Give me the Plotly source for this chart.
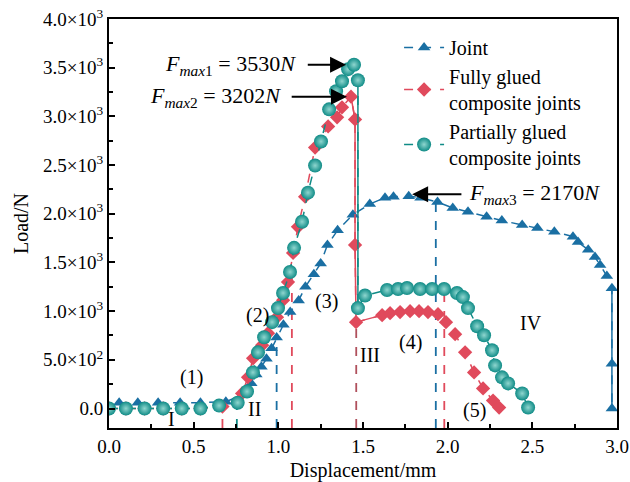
import plotly.graph_objects as go

# ---------------- data ----------------
joint_x = [0.06, 0.17, 0.29, 0.42, 0.54, 0.69, 0.80, 0.84, 0.87, 0.90, 0.93, 0.96, 0.99, 1.03, 1.07,
           1.12, 1.16, 1.21, 1.25, 1.29, 1.35, 1.44, 1.54, 1.63, 1.68, 1.77, 1.84, 1.94, 2.03, 2.12,
           2.23, 2.32, 2.44, 2.53, 2.63, 2.74, 2.77, 2.83, 2.87, 2.90, 2.94, 2.97, 2.97, 2.97]
joint_y = [60, 60, 60, 60, 60, 70, 150, 260, 350, 430, 510, 620, 730, 860, 990,
           1110, 1250, 1380, 1490, 1680, 1830, 1990, 2100, 2165, 2175, 2180, 2165, 2120, 2060, 2020,
           1970, 1930, 1885, 1855, 1815, 1765, 1710, 1630, 1555, 1475, 1360, 1235, 460, 0]

full_x = [0, 0.10, 0.21, 0.32, 0.43, 0.54, 0.67, 0.786, 0.821, 0.851, 0.904, 0.939, 0.992, 1.028,
          1.057, 1.087, 1.116, 1.158, 1.217, 1.294, 1.347, 1.376, 1.429, 1.453, 1.453, 1.459,
          1.613, 1.66, 1.719, 1.778, 1.831, 1.884, 1.943, 1.99, 2.044, 2.103, 2.156, 2.209, 2.268, 2.304]
full_y = [0, 0, 0, 0, 0, 0, 20, 155, 320, 515, 650, 773, 938, 1113,
          1299, 1598, 1866, 2175, 2680, 2897, 2990, 3093, 3202, 2969, 1680, 887,
          959, 979, 990, 1000, 1000, 990, 969, 887, 763, 577, 371, 206, 82, 10]

part_x = [0, 0.10, 0.21, 0.32, 0.43, 0.54, 0.65, 0.76, 0.815, 0.85, 0.88, 0.916, 0.963, 0.998,
          1.028, 1.069, 1.093, 1.14, 1.175, 1.217, 1.252, 1.30, 1.341, 1.376, 1.412, 1.447, 1.47,
          1.47, 1.512, 1.642, 1.707, 1.76, 1.837, 1.908, 1.979, 2.055, 2.09, 2.12, 2.174, 2.215,
          2.262, 2.28, 2.321, 2.357, 2.44, 2.475]
part_y = [0, 0, 0, 0, 0, 0, 30, 60, 175, 371, 577, 732, 887, 1031,
          1186, 1402, 1650, 1918, 2217, 2495, 2742, 3072, 3258, 3361, 3485, 3530, 3371,
          1031, 1160, 1217, 1227, 1237, 1227, 1227, 1227, 1186, 1144, 1031, 845, 753,
          598, 443, 320, 258, 155, 10]

# vertical dashed reference lines (x position, top value)
ref_x = [0.67, 0.755, 0.99, 1.08, 1.46, 1.93, 1.98]
ref_top = [0, 60, 650, 1350, 887, 2120, 1230]
ref_col = ["#e04a5c", "#0f8b86", "#1a6fa3", "#e04a5c", "#b0505c", "#1a6fa3", "#e04a5c"]

y_tickvals = [0, 500, 1000, 1500, 2000, 2500, 3000, 3500, 4000]
y_ticktext = ["0.0", "5.0×10<sup>2</sup>", "1.0×10<sup>3</sup>", "1.5×10<sup>3</sup>",
              "2.0×10<sup>3</sup>", "2.5×10<sup>3</sup>", "3.0×10<sup>3</sup>",
              "3.5×10<sup>3</sup>", "4.0×10<sup>3</sup>"]

stage_labels = ["(1)", "I", "II", "(2)", "(3)", "III", "(4)", "(5)", "IV"]
stage_x = [0.49, 0.37, 0.86, 0.874, 1.287, 1.54, 1.78, 2.16, 2.49]
stage_y = [320, -103, 0, 960, 1103, 546, 680, -20, 876]

BLUE = "#1a6fa3"
RED = "#e04a5c"
TEAL = "#0f8b86"
FONT = "Liberation Serif"

fig = go.Figure()

# reference dashed lines
for xv, tv, c in zip(ref_x, ref_top, ref_col):
    fig.add_trace(go.Scatter(x=[xv, xv], y=[-200, tv], mode="lines",
                             line=dict(color=c, width=1.8, dash="dash"),
                             showlegend=False, hoverinfo="skip"))

# solid drop segments
fig.add_trace(go.Scatter(x=joint_x[-3:], y=joint_y[-3:], mode="lines",
                         line=dict(color=BLUE, width=1.5), showlegend=False))
fig.add_trace(go.Scatter(x=full_x[22:27], y=full_y[22:27], mode="lines",
                         line=dict(color=RED, width=1.5), showlegend=False))
fig.add_trace(go.Scatter(x=part_x[26:28], y=part_y[26:28], mode="lines",
                         line=dict(color=TEAL, width=1.5), showlegend=False))

fig.add_trace(go.Scatter(x=joint_x, y=joint_y, mode="lines+markers", name="Joint",
                         line=dict(color=BLUE, width=1.5, dash="dash"),
                         marker=dict(symbol="triangle-up", size=11, color=BLUE)))
fig.add_trace(go.Scatter(x=full_x, y=full_y, mode="lines+markers",
                         name="Fully glued<br>composite joints",
                         line=dict(color=RED, width=1.5, dash="dash"),
                         marker=dict(symbol="diamond", size=11, color=RED)))
fig.add_trace(go.Scatter(x=part_x, y=part_y, mode="lines+markers",
                         name="Partially glued<br>composite joints",
                         line=dict(color=TEAL, width=1.5, dash="dash"),
                         marker=dict(symbol="circle", size=14, color=TEAL,
                                     gradient=dict(type="radial", color="#8fd6cf"),
                                     line=dict(width=0))))

annotations = []
for t, xv, yv in zip(stage_labels, stage_x, stage_y):
    annotations.append(dict(x=xv, y=yv, text=t, showarrow=False,
                            font=dict(family=FONT, size=20, color="black")))

# F max labels and arrows
arrow = dict(showarrow=True, arrowhead=2, arrowsize=1.6, arrowwidth=2, arrowcolor="black",
             axref="x", ayref="y", text="")
annotations += [
    dict(arrow, x=1.40, y=3530, ax=1.165, ay=3530),
    dict(arrow, x=1.405, y=3202, ax=1.07, ay=3202),
    dict(arrow, x=1.79, y=2200, ax=2.09, ay=2200),
    dict(x=1.115, y=3530, xanchor="right", showarrow=False,
         text="<i>F</i><sub><i>max</i>1</sub> = 3530<i>N</i>",
         font=dict(family=FONT, size=22, color="black")),
    dict(x=1.03, y=3202, xanchor="right", showarrow=False,
         text="<i>F</i><sub><i>max</i>2</sub> = 3202<i>N</i>",
         font=dict(family=FONT, size=22, color="black")),
    dict(x=2.115, y=2200, xanchor="left", showarrow=False,
         text="<i>F</i><sub><i>max</i>3</sub> = 2170<i>N</i>",
         font=dict(family=FONT, size=22, color="black")),
]

axis_common = dict(showline=True, linecolor="black", linewidth=2, mirror=True,
                   ticks="inside", ticklen=6, tickwidth=1.5, tickcolor="black",
                   showgrid=False, zeroline=False, automargin=False,
                   ticklabeloverflow="allow",
                   tickfont=dict(family=FONT, size=19, color="black"))

fig.update_layout(
    width=630, height=482,
    margin=dict(l=109, r=13, t=19, b=54, autoexpand=False),
    paper_bgcolor="white", plot_bgcolor="white",
    font=dict(family=FONT, color="black"),
    xaxis=dict(axis_common, range=[0, 3], tickvals=[0, 0.5, 1, 1.5, 2, 2.5, 3],
               tickformat=".1f",
               minor=dict(ticks="inside", ticklen=4, dtick=0.25, tickcolor="black", tickwidth=1.5),
               title=dict(text="Displacement/mm", font=dict(family=FONT, size=20), standoff=8)),
    yaxis=dict(axis_common, range=[-200, 4000], tickvals=y_tickvals, ticktext=y_ticktext,
               minor=dict(ticks="inside", ticklen=4, dtick=250, tick0=0, tickcolor="black", tickwidth=1.5),
               title=dict(text="Load/N", font=dict(family=FONT, size=20), standoff=9)),
    legend=dict(x=0.571, y=0.978, xanchor="left", yanchor="top",
                font=dict(family=FONT, size=20, color="black"),
                bgcolor="rgba(0,0,0,0)", itemwidth=40, tracegroupgap=0),
    annotations=annotations,
    showlegend=True,
)

# remove the default 8px page margin so the figure sits at the window's top-left corner
fig.write_html("out.html", config={"displayModeBar": False},
               post_script="document.body.style.margin='0px';")
